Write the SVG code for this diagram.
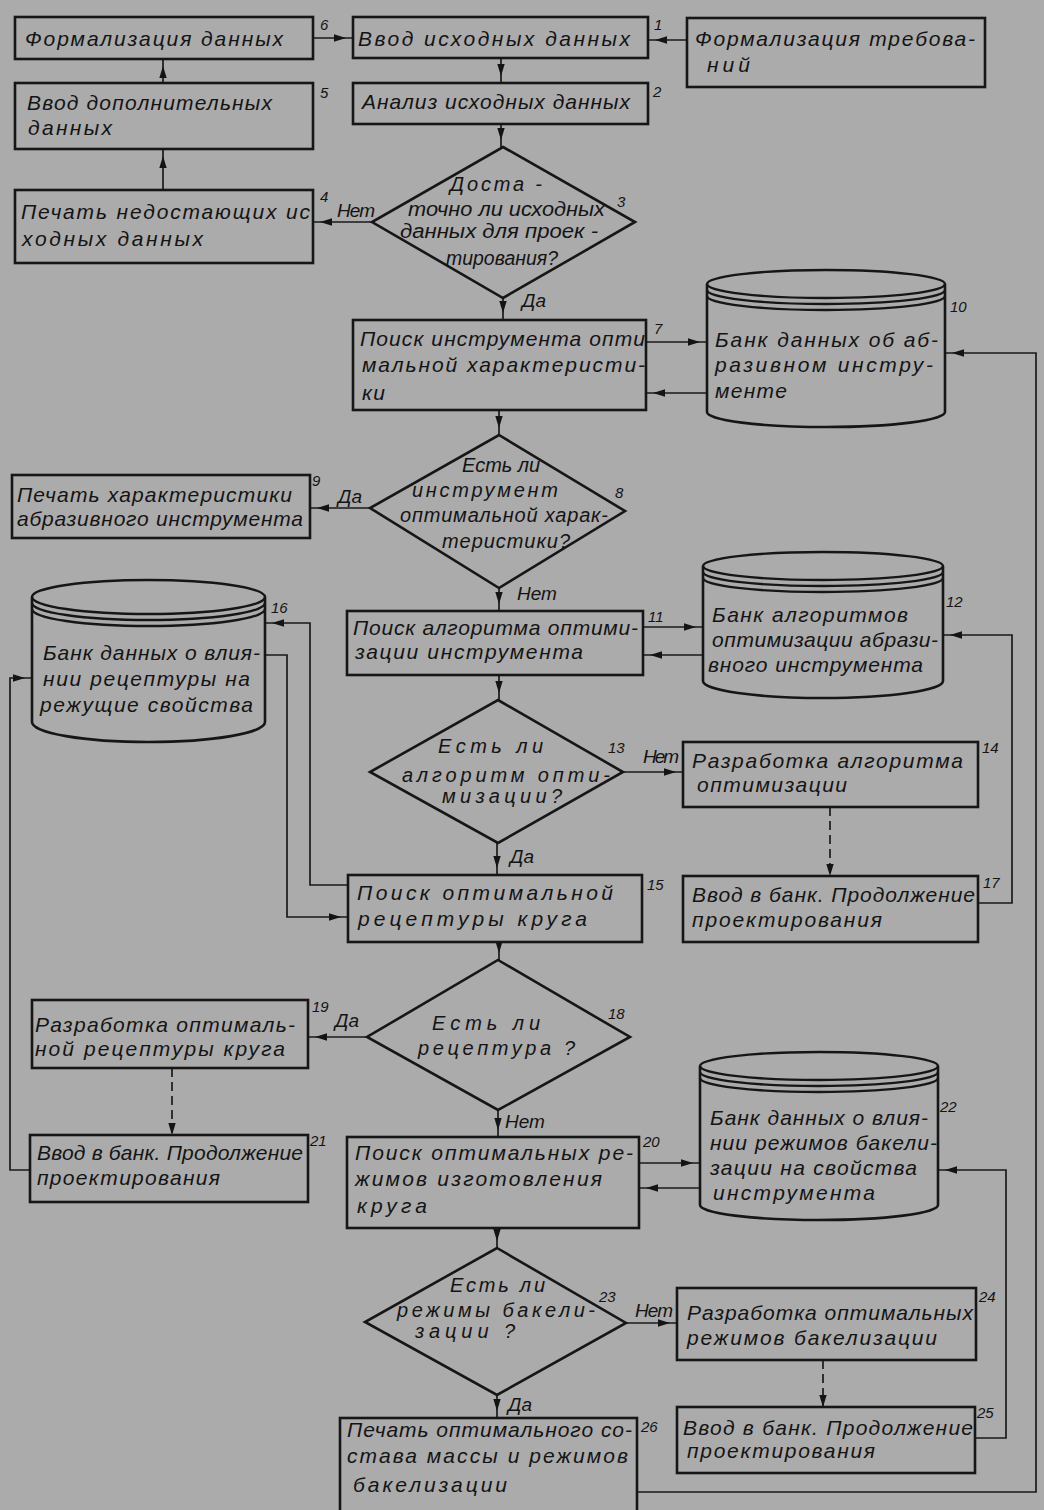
<svg xmlns="http://www.w3.org/2000/svg" width="1044" height="1510" viewBox="0 0 1044 1510">
<style>
.bg{fill:#ababab}
.n{fill:#ababab;stroke:#161616;stroke-width:2.6}
.cy{fill:none;stroke:#161616;stroke-width:2.4}
.c{fill:none;stroke:#1a1a1a;stroke-width:1.7}
.d{fill:none;stroke:#1a1a1a;stroke-width:1.7;stroke-dasharray:9 5}
.t{font-family:"Liberation Sans","DejaVu Sans",sans-serif;font-style:italic;font-size:21px;fill:#141414}
.q{font-size:20px}
.num{font-family:"Liberation Sans","DejaVu Sans",sans-serif;font-style:italic;font-size:15px;fill:#141414}
.lbl{font-family:"Liberation Sans","DejaVu Sans",sans-serif;font-style:italic;font-size:19px;fill:#141414}
</style>
<defs>
<marker id="a" markerUnits="userSpaceOnUse" markerWidth="24" markerHeight="10" refX="19" refY="5" orient="auto" overflow="visible"><path d="M0,1.3 L12,5 L0,8.7 z" fill="#141414"/></marker>
<marker id="ae" markerUnits="userSpaceOnUse" markerWidth="14" markerHeight="10" refX="12" refY="5" orient="auto" overflow="visible"><path d="M0,1.3 L12,5 L0,8.7 z" fill="#141414"/></marker>
</defs>
<rect class="bg" x="0" y="0" width="1044" height="1510"/>

<g id="connectors">
<path class="c" marker-end="url(#a)" d="M313,38 H353"/>
<path class="c" marker-end="url(#a)" d="M687,40 H648"/>
<path class="c" marker-end="url(#a)" d="M501,58 V83"/>
<path class="c" marker-end="url(#a)" d="M501,124 V147"/>
<path class="c" marker-end="url(#a)" d="M372,222 H313"/>
<path class="c" marker-end="url(#a)" d="M163,190 V149"/>
<path class="c" marker-end="url(#a)" d="M163,83 V59"/>
<path class="c" marker-end="url(#a)" d="M503,298 V320"/>
<path class="c" marker-end="url(#a)" d="M646,342 H707"/>
<path class="c" marker-end="url(#a)" d="M707,393 H646"/>
<path class="c" marker-end="url(#a)" d="M499,410 V435"/>
<path class="c" marker-end="url(#a)" d="M370,508 H310"/>
<path class="c" marker-end="url(#a)" d="M499,588 V611"/>
<path class="c" marker-end="url(#a)" d="M643,627 H703"/>
<path class="c" marker-end="url(#a)" d="M703,655 H643"/>
<path class="c" marker-end="url(#a)" d="M499,675 V700"/>
<path class="c" marker-end="url(#a)" d="M623,772 H683"/>
<path class="d" marker-end="url(#ae)" d="M830,807 V876"/>
<path class="c" marker-end="url(#a)" d="M978,903 H1012 V635 H943"/>
<path class="c" marker-end="url(#a)" d="M497,843 V875"/>
<path class="c" marker-end="url(#a)" d="M348,885 H310 V623 H265"/>
<path class="c" marker-end="url(#a)" d="M265,655 H287 V917 H348"/>
<path class="c" marker-end="url(#a)" d="M499,942 V960"/>
<path class="c" marker-end="url(#a)" d="M367,1037 H308"/>
<path class="d" marker-end="url(#ae)" d="M172,1068 V1135"/>
<path class="c" marker-end="url(#a)" d="M30,1170 H10 V678 H32"/>
<path class="c" marker-end="url(#a)" d="M498,1110 V1137"/>
<path class="c" marker-end="url(#a)" d="M639,1163 H700"/>
<path class="c" marker-end="url(#a)" d="M700,1188 H639"/>
<path class="c" marker-end="url(#a)" d="M497,1228 V1248"/>
<path class="c" marker-end="url(#a)" d="M626,1323 H677"/>
<path class="d" marker-end="url(#ae)" d="M823,1360 V1407"/>
<path class="c" marker-end="url(#a)" d="M975,1438 H1006 V1170 H938"/>
<path class="c" marker-end="url(#a)" d="M497,1395 V1418"/>
<path class="c" marker-end="url(#a)" d="M637,1492 H1036 V353 H945"/>
<text class="lbl" x="337" y="217" textLength="38">Нет</text>
<text class="lbl" x="522" y="307">Да</text>
<text class="lbl" x="338" y="503">Да</text>
<text class="lbl" x="517" y="600">Нет</text>
<text class="lbl" x="643" y="763" textLength="36">Нет</text>
<text class="lbl" x="510" y="863">Да</text>
<text class="lbl" x="335" y="1027">Да</text>
<text class="lbl" x="505" y="1128">Нет</text>
<text class="lbl" x="635" y="1317" textLength="38">Нет</text>
<text class="lbl" x="508" y="1411">Да</text>
</g>

<g id="n6">
<rect class="n" x="15" y="17" width="298" height="42"/>
<text class="t" x="25" y="46" textLength="258">Формализация данных</text>
<text class="num" x="320" y="30">6</text>
</g>
<g id="n1">
<rect class="n" x="353" y="17" width="295" height="41"/>
<text class="t" x="358" y="46" textLength="272">Ввод исходных данных</text>
<text class="num" x="654" y="30">1</text>
</g>
<g id="nFT">
<rect class="n" x="687" y="18" width="298" height="69"/>
<text class="t" x="695" y="46" textLength="280">Формализация  требова-</text>
<text class="t" x="707" y="72" textLength="43">ний</text>
</g>
<g id="n2">
<rect class="n" x="353" y="83" width="295" height="41"/>
<text class="t" x="362" y="109" textLength="268">Анализ исходных данных</text>
<text class="num" x="653" y="97">2</text>
</g>
<g id="n5">
<rect class="n" x="15" y="83" width="298" height="66"/>
<text class="t" x="27" y="110" textLength="245">Ввод дополнительных</text>
<text class="t" x="28" y="135" textLength="84">данных</text>
<text class="num" x="320" y="98">5</text>
</g>
<g id="n4">
<rect class="n" x="15" y="190" width="298" height="73"/>
<text class="t" x="21" y="219" textLength="289">Печать недостающих ис</text>
<text class="t" x="22" y="246" textLength="181">ходных  данных</text>
<text class="num" x="320" y="202">4</text>
</g>
<g id="n3">
<polygon class="n" points="503,147 635,222 503,298 372,222"/>
<text class="t q" x="450" y="191" textLength="92">Доста -</text>
<text class="t q" x="408" y="216" textLength="197" lengthAdjust="spacingAndGlyphs">точно ли исходных</text>
<text class="t q" x="400" y="238" textLength="198" lengthAdjust="spacingAndGlyphs">данных для проек -</text>
<text class="t q" x="446" y="265" textLength="112" lengthAdjust="spacingAndGlyphs">тирования?</text>
<text class="num" x="617" y="207">3</text>
</g>
<g id="n7">
<rect class="n" x="353" y="320" width="293" height="90"/>
<text class="t" x="360" y="346" textLength="285">Поиск инструмента опти</text>
<text class="t" x="362" y="372" textLength="283">мальной характеристи-</text>
<text class="t" x="362" y="400" textLength="23">ки</text>
<text class="num" x="654" y="334">7</text>
</g>
<g id="n10">
<path class="n" d="M707,284 V412 A119,15 0 0 0 945,412 V284"/>
<ellipse class="cy" cx="826" cy="284" rx="119" ry="14"/>
<path class="cy" d="M707,290 A119,14 0 0 0 945,290 M707,296 A119,14 0 0 0 945,296"/>
<text class="t" x="715" y="347" textLength="223">Банк данных об аб-</text>
<text class="t" x="715" y="372" textLength="218">разивном инстру-</text>
<text class="t" x="715" y="398" textLength="72">менте</text>
<text class="num" x="950" y="312">10</text>
</g>
<g id="n9">
<rect class="n" x="12" y="475" width="298" height="63"/>
<text class="t" x="17" y="502" textLength="275">Печать характеристики</text>
<text class="t" x="17" y="526" textLength="286">абразивного инструмента</text>
<text class="num" x="312" y="486">9</text>
</g>
<g id="n8">
<polygon class="n" points="499,435 625,511 499,588 370,508"/>
<text class="t q" x="462" y="472" textLength="78">Есть ли</text>
<text class="t q" x="412" y="497" textLength="146">инструмент</text>
<text class="t q" x="400" y="522" textLength="208">оптимальной харак-</text>
<text class="t q" x="442" y="548" textLength="128">теристики?</text>
<text class="num" x="615" y="498">8</text>
</g>
<g id="n16">
<path class="n" d="M32,597 V722 A116.5,20 0 0 0 265,722 V597"/>
<ellipse class="cy" cx="148.5" cy="597" rx="116.5" ry="17"/>
<path class="cy" d="M32,603 A116.5,17 0 0 0 265,603 M32,609 A116.5,17 0 0 0 265,609"/>
<text class="t" x="43" y="660" textLength="217">Банк данных о влия-</text>
<text class="t" x="43" y="686" textLength="207">нии рецептуры на</text>
<text class="t" x="40" y="712" textLength="213">режущие свойства</text>
<text class="num" x="271" y="613">16</text>
</g>
<g id="n11">
<rect class="n" x="347" y="611" width="296" height="64"/>
<text class="t" x="353" y="635" textLength="285">Поиск алгоритма оптими-</text>
<text class="t" x="355" y="659" textLength="228">зации инструмента</text>
<text class="num" x="648" y="622">11</text>
</g>
<g id="n12">
<path class="n" d="M703,566 V681 A120,17 0 0 0 943,681 V566"/>
<ellipse class="cy" cx="823" cy="566" rx="120" ry="14"/>
<path class="cy" d="M703,572 A120,14 0 0 0 943,572 M703,578 A120,14 0 0 0 943,578"/>
<text class="t" x="712" y="622" textLength="196">Банк алгоритмов</text>
<text class="t" x="712" y="647" textLength="226">оптимизации абрази-</text>
<text class="t" x="708" y="672" textLength="215">вного инструмента</text>
<text class="num" x="946" y="607">12</text>
</g>
<g id="n13">
<polygon class="n" points="498,700 623,772 498,843 370,772"/>
<text class="t q" x="438" y="753" textLength="105">Есть ли</text>
<text class="t q" x="402" y="782" textLength="208">алгоритм опти-</text>
<text class="t q" x="442" y="803" textLength="120">мизации?</text>
<text class="num" x="608" y="753">13</text>
</g>
<g id="n14">
<rect class="n" x="683" y="742" width="295" height="65"/>
<text class="t" x="692" y="768" textLength="271">Разработка алгоритма</text>
<text class="t" x="697" y="792" textLength="150">оптимизации</text>
<text class="num" x="982" y="753">14</text>
</g>
<g id="n15">
<rect class="n" x="348" y="875" width="294" height="67"/>
<text class="t" x="357" y="900" textLength="256">Поиск оптимальной</text>
<text class="t" x="358" y="926" textLength="229">рецептуры круга</text>
<text class="num" x="647" y="890">15</text>
</g>
<g id="n17">
<rect class="n" x="683" y="876" width="295" height="66"/>
<text class="t" x="692" y="902" textLength="283">Ввод в банк. Продолжение</text>
<text class="t" x="692" y="927" textLength="190">проектирования</text>
<text class="num" x="983" y="888">17</text>
</g>
<g id="n18">
<polygon class="n" points="498,960 630,1037 498,1110 367,1037"/>
<text class="t q" x="432" y="1030" textLength="108">Есть ли</text>
<text class="t q" x="418" y="1055" textLength="157">рецептура ?</text>
<text class="num" x="608" y="1019">18</text>
</g>
<g id="n19">
<rect class="n" x="32" y="1000" width="276" height="68"/>
<text class="t" x="35" y="1032" textLength="260">Разработка оптималь-</text>
<text class="t" x="35" y="1056" textLength="250">ной рецептуры круга</text>
<text class="num" x="312" y="1012">19</text>
</g>
<g id="n21">
<rect class="n" x="30" y="1135" width="278" height="67"/>
<text class="t" x="37" y="1160" textLength="266">Ввод в банк. Продолжение</text>
<text class="t" x="37" y="1185" textLength="183">проектирования</text>
<text class="num" x="310" y="1146">21</text>
</g>
<g id="n20">
<rect class="n" x="347" y="1137" width="292" height="91"/>
<text class="t" x="355" y="1160" textLength="278">Поиск оптимальных ре-</text>
<text class="t" x="355" y="1186" textLength="247">жимов изготовления</text>
<text class="t" x="357" y="1213" textLength="70">круга</text>
<text class="num" x="643" y="1147">20</text>
</g>
<g id="n22">
<path class="n" d="M700,1066 V1205 A119,15 0 0 0 938,1205 V1066"/>
<ellipse class="cy" cx="819" cy="1066" rx="119" ry="14"/>
<path class="cy" d="M700,1072 A119,14 0 0 0 938,1072 M700,1078 A119,14 0 0 0 938,1078"/>
<text class="t" x="710" y="1125" textLength="218">Банк данных о влия-</text>
<text class="t" x="710" y="1150" textLength="227">нии режимов бакели-</text>
<text class="t" x="710" y="1175" textLength="207">зации на свойства</text>
<text class="t" x="713" y="1200" textLength="162">инструмента</text>
<text class="num" x="940" y="1112">22</text>
</g>
<g id="n23">
<polygon class="n" points="497,1248 626,1323 497,1395 365,1322"/>
<text class="t q" x="450" y="1292" textLength="95">Есть ли</text>
<text class="t q" x="397" y="1317" textLength="198">режимы бакели-</text>
<text class="t q" x="415" y="1338" textLength="100">зации ?</text>
<text class="num" x="599" y="1302">23</text>
</g>
<g id="n24">
<rect class="n" x="677" y="1288" width="299" height="72"/>
<text class="t" x="687" y="1320" textLength="286">Разработка оптимальных</text>
<text class="t" x="687" y="1345" textLength="250">режимов бакелизации</text>
<text class="num" x="979" y="1302">24</text>
</g>
<g id="n25">
<rect class="n" x="677" y="1407" width="298" height="66"/>
<text class="t" x="683" y="1435" textLength="290">Ввод в банк. Продолжение</text>
<text class="t" x="687" y="1458" textLength="188">проектирования</text>
<text class="num" x="977" y="1418">25</text>
</g>
<g id="n26">
<rect class="n" x="340" y="1418" width="297" height="110"/>
<text class="t" x="347" y="1437" textLength="285">Печать оптимального со-</text>
<text class="t" x="347" y="1463" textLength="281">става массы и режимов</text>
<text class="t" x="353" y="1492" textLength="154">бакелизации</text>
<text class="num" x="641" y="1432">26</text>
</g>
</svg>
